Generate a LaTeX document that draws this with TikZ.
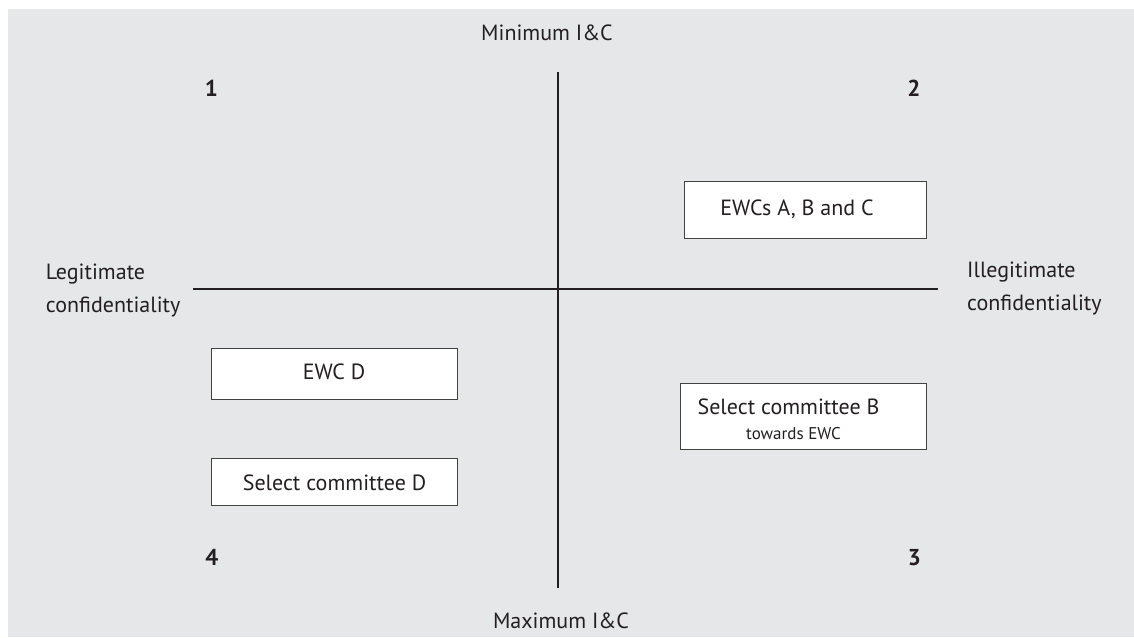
\documentclass[tikz,border=0pt]{standalone}
\usepackage{fontspec}
\setmainfont{PT Sans}
\definecolor{bggray}{RGB}{230,231,233}
\definecolor{ink}{RGB}{35,31,32}
\begin{document}
\begin{tikzpicture}[x=1pt,y=-1pt,
  axis/.style={draw=ink,line width=1.8pt},
  qbox/.style={draw=ink!85,line width=0.9pt,fill=white,inner sep=0pt,anchor=north west},
  lbl/.style={text=ink,font=\fontsize{22}{33}\selectfont,inner sep=0pt},
  num/.style={text=ink,font=\fontsize{23}{28}\selectfont\bfseries,inner sep=0pt,anchor=base},
  small/.style={text=ink,font=\fontsize{17}{20}\selectfont,inner sep=0pt,anchor=base}]
\useasboundingbox (0,0) rectangle (1134,637);
\fill[white] (0,0) rectangle (1134,637);
\fill[bggray] (8,9) rectangle (1134,637);
% axes
\coordinate (vt) at (558,72);
\coordinate (vb) at (558,588);
\coordinate (hl) at (193,289);
\coordinate (hr) at (938,289);
\draw[axis] (vt) -- (vb);
\draw[axis] (hl) -- (hr);
% axis labels
\node[lbl,anchor=base] (minic) at (547,40) {Minimum I\&C};
\node[lbl,anchor=base] (maxic) at (561,628) {Maximum I\&C};
\node[lbl,anchor=base west] (legit1) at (45.7,279) {Legitimate};
\node[lbl,anchor=base west] (legit2) at (45.7,312) {confidentiality};
\node[lbl,anchor=base west] (illeg1) at (967,277) {Illegitimate};
\node[lbl,anchor=base west] (illeg2) at (967,310) {confidentiality};
% quadrant numbers
\node[num] (q1) at (211.5,96) {1};
\node[num] (q2) at (914,96) {2};
\node[num] (q3) at (914.5,565) {3};
\node[num] (q4) at (212,565) {4};
% boxes
\node[qbox,minimum width=242pt,minimum height=57pt] (bABC) at (684,181) {};
\node[qbox,minimum width=246pt,minimum height=51pt] (bEWCD) at (211,348) {};
\node[qbox,minimum width=246pt,minimum height=47pt] (bSCD) at (211,458) {};
\node[qbox,minimum width=246pt,minimum height=66pt] (bSCB) at (680,383) {};
% box texts
\node[lbl,anchor=base] (tABC) at (797,215) {EWCs A, B and C};
\node[lbl,anchor=base] (tEWCD) at (334,379) {EWC D};
\node[lbl,anchor=base] (tSCD) at (334.5,490) {Select committee D};
\node[lbl,anchor=base] (tSCB) at (788.5,414) {Select committee B};
\node[small] (tSCB2) at (793.5,439) {towards EWC};
\end{tikzpicture}
\end{document}
